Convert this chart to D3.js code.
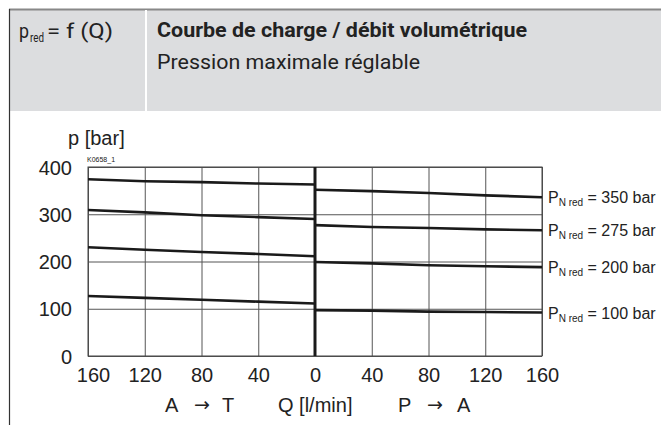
<!DOCTYPE html>
<html>
<head>
<meta charset="utf-8">
<script src="https://cdn.jsdelivr.net/npm/d3@7"></script>
<style>
body { margin:0; background:#fff; }
svg { display:block; }
.tick line { stroke:#555; stroke-width:1; }
.tick text { font-family:"Liberation Sans", Arial, sans-serif; font-size:20px; fill:#222; }
.lab { font-family:"Liberation Sans", Arial, sans-serif; fill:#222; }
.arrow { font-family:"DejaVu Sans", sans-serif; fill:#222; }
.head { font-family:"Liberation Sans Narrow", "Roboto", sans-serif; fill:#222; }
</style>
</head>
<body>
<svg id="chart"></svg>
<script>
// flow values (l/min) at the grid lines, both directions
var qValues = [0, 40, 80, 120, 160];
var pTicks = [0, 100, 200, 300, 400];

// A -> T side, read at Q = 0,40,80,120,160
var p350AT = [363, 365, 368, 370, 374];
var p275AT = [290, 294, 298, 304, 309];
var p200AT = [211, 216, 220, 225, 230];
var p100AT = [111, 115, 119, 123, 127];

// P -> A side, read at Q = 0,40,80,120,160
var p350PA = [352, 349, 345, 340, 336];
var p275PA = [277, 273, 271, 268, 266];
var p200PA = [199, 196, 192, 190, 188];
var p100PA = [97, 96, 94, 93, 92];

var seriesNames = ["350", "275", "200", "100"];
var atSeries = [p350AT, p275AT, p200AT, p100AT];
var paSeries = [p350PA, p275PA, p200PA, p100PA];

var screen = {width:661, height:425};
var plot = {left:88, right:542, center:315, top:167, bottom:356};

var svg = d3.select("#chart")
    .attr("width", screen.width)
    .attr("height", screen.height);

// header band
svg.append("rect")
    .attr("x", 9).attr("y", 9)
    .attr("width", screen.width - 9).attr("height", 102)
    .attr("fill", "#dcdddf");
svg.append("line")
    .attr("x1", 9).attr("x2", screen.width)
    .attr("y1", 9.5).attr("y2", 9.5)
    .attr("stroke", "#888").attr("stroke-width", 2);
svg.append("line")
    .attr("x1", 146).attr("x2", 146)
    .attr("y1", 10).attr("y2", 111)
    .attr("stroke", "#fff").attr("stroke-width", 2);
svg.append("line")
    .attr("x1", 9.5).attr("x2", 9.5)
    .attr("y1", 9).attr("y2", screen.height)
    .attr("stroke", "#333").attr("stroke-width", 1.2);

var head = svg.append("g").attr("class", "head");
head.append("text").attr("x", 19).attr("y", 38).attr("font-size", 21)
    .attr("textLength", 10).attr("lengthAdjust", "spacingAndGlyphs").text("p");
head.append("text").attr("x", 30).attr("y", 42).attr("font-size", 12)
    .attr("textLength", 14).attr("lengthAdjust", "spacingAndGlyphs").text("red");
head.append("text").attr("x", 47).attr("y", 38).attr("font-size", 21)
    .attr("textLength", 66).attr("lengthAdjust", "spacingAndGlyphs").text("= f (Q)");

head.append("text")
    .attr("x", 157).attr("y", 37)
    .attr("font-size", 21).attr("font-weight", "bold")
    .attr("textLength", 370).attr("lengthAdjust", "spacingAndGlyphs")
    .text("Courbe de charge / débit volumétrique");
head.append("text")
    .attr("x", 157).attr("y", 69)
    .attr("font-size", 21)
    .attr("textLength", 263).attr("lengthAdjust", "spacingAndGlyphs")
    .text("Pression maximale réglable");

// scales
var xAT = d3.scaleLinear().domain([0, 160]).range([plot.center, plot.left]);
var xPA = d3.scaleLinear().domain([0, 160]).range([plot.center, plot.right]);
var y = d3.scaleLinear().domain([0, 400]).range([plot.bottom, plot.top]);

var g = svg.append("g");

// horizontal grid + p labels
var yAxis = d3.axisLeft(y)
    .tickValues(pTicks)
    .tickSize(-(plot.right - plot.left))
    .tickPadding(16);
g.append("g")
    .attr("transform", "translate(" + plot.left + ",0)")
    .call(yAxis)
    .call(function(a){ a.select(".domain").remove(); })
    .selectAll(".tick text").attr("dy", "0.35em").attr("x", -16);

// vertical grid + Q labels, left half
var xAxisAT = d3.axisBottom(xAT)
    .tickValues([40, 80, 120, 160])
    .tickSize(-(plot.bottom - plot.top))
    .tickPadding(12);
g.append("g")
    .attr("transform", "translate(0," + plot.bottom + ")")
    .call(xAxisAT)
    .call(function(a){ a.select(".domain").remove(); })
    .selectAll(".tick text")
    .attr("dy", "0.71em")
    .attr("dx", function(d){ return d === 160 ? 5 : 0; });

// right half
var xAxisPA = d3.axisBottom(xPA)
    .tickValues(qValues)
    .tickSize(-(plot.bottom - plot.top))
    .tickPadding(12);
g.append("g")
    .attr("transform", "translate(0," + plot.bottom + ")")
    .call(xAxisPA)
    .call(function(a){ a.select(".domain").remove(); })
    .selectAll(".tick text").attr("dy", "0.71em");

// frame
g.append("rect")
    .attr("x", plot.left).attr("y", y(400))
    .attr("width", plot.right - plot.left).attr("height", y(0) - y(400))
    .attr("fill", "none").attr("stroke", "#444").attr("stroke-width", 1);

// centre line at Q = 0
g.append("line")
    .attr("x1", xAT(0)).attr("x2", xAT(0))
    .attr("y1", y(400)).attr("y2", y(0))
    .attr("stroke", "#1a1a1a").attr("stroke-width", 3);

var lineAT = d3.line().x(function(d, i){ return xAT(qValues[i]); }).y(function(d){ return y(d); });
var linePA = d3.line().x(function(d, i){ return xPA(qValues[i]); }).y(function(d){ return y(d); });

g.selectAll(".at").data(atSeries).enter().append("path")
    .attr("class", "at")
    .attr("d", lineAT)
    .attr("fill", "none").attr("stroke", "#1a1a1a").attr("stroke-width", 2.6);
g.selectAll(".pa").data(paSeries).enter().append("path")
    .attr("class", "pa")
    .attr("d", linePA)
    .attr("fill", "none").attr("stroke", "#1a1a1a").attr("stroke-width", 2.6);

// series labels
var labs = g.selectAll(".slab").data(seriesNames).enter().append("text")
    .attr("class", "lab slab")
    .attr("x", plot.right + 6)
    .attr("y", function(d, i){ return y(paSeries[i][4]) + 6; })
    .attr("font-size", 16);
labs.append("tspan").text("P");
labs.append("tspan").attr("font-size", 10).attr("dy", 3).text("N red");
labs.append("tspan").attr("dy", -3).text(function(d){ return " = " + d + " bar"; });

// axis titles
svg.append("text").attr("class", "lab")
    .attr("x", 68).attr("y", 145).attr("font-size", 20).text("p [bar]");
svg.append("text").attr("class", "lab")
    .attr("x", 87).attr("y", 162).attr("font-size", 7).text("K0658_1");

var axisWords = [
    {t:"A", x:165}, {t:"T", x:222},
    {t:"Q [l/min]", x:278},
    {t:"P", x:398}, {t:"A", x:457}
];
svg.selectAll(".aw").data(axisWords).enter().append("text")
    .attr("class", "lab aw")
    .attr("x", function(d){ return d.x; })
    .attr("y", 412)
    .attr("font-size", 20)
    .text(function(d){ return d.t; });

// direction arrows
svg.selectAll(".arr").data([202, 435]).enter().append("text")
    .attr("class", "arrow arr")
    .attr("x", function(d){ return d; })
    .attr("y", 411)
    .attr("text-anchor", "middle")
    .attr("font-size", 19)
    .text("→");
</script>
</body>
</html>
